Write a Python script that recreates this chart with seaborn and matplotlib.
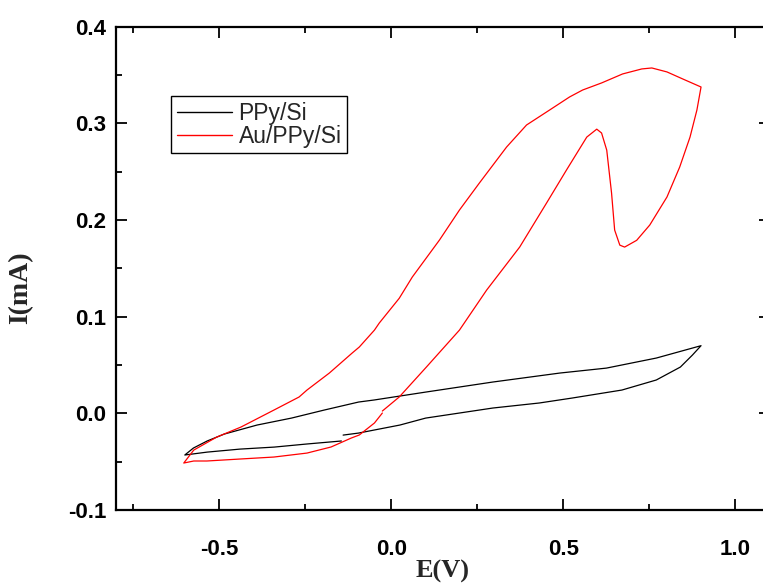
import matplotlib
matplotlib.use("Agg")
import matplotlib.pyplot as plt
from matplotlib.ticker import MultipleLocator, FormatStrFormatter
import pandas as pd
import seaborn as sns

# Cyclic voltammograms: potential E (V) and current I (mA), in scan order
ppy_e = [-0.145, -0.245, -0.34, -0.44, -0.535, -0.60, -0.575, -0.535, -0.485,
         -0.39, -0.29, -0.195, -0.095, -0.05, 0.10, 0.295, 0.49, 0.625, 0.77,
         0.90, 0.875, 0.84, 0.77, 0.67, 0.525, 0.43, 0.295, 0.10, 0.025,
         -0.095, -0.14]
ppy_i = [-0.0286, -0.0317, -0.0349, -0.0370, -0.0401, -0.0431, -0.0359,
         -0.0286, -0.0214, -0.0121, -0.0049, 0.0034, 0.0117, 0.0138, 0.0220,
         0.0324, 0.0417, 0.0468, 0.0572, 0.0700, 0.0603, 0.0479, 0.0345,
         0.0241, 0.0158, 0.0107, 0.0055, -0.0049, -0.0121, -0.0204, -0.0225]

au_e = [-0.026, 0.023, 0.102, 0.198, 0.277, 0.373, 0.451, 0.509, 0.568, 0.597,
        0.611, 0.626, 0.640, 0.649, 0.664, 0.678, 0.713, 0.751, 0.801, 0.838,
        0.868, 0.888, 0.90, 0.847, 0.801, 0.757, 0.728, 0.672, 0.611, 0.556,
        0.518, 0.460, 0.393, 0.335, 0.256, 0.198, 0.140, 0.061, 0.023,
        -0.035, -0.049, -0.093, -0.114, -0.180, -0.245, -0.268,
        -0.341, -0.437, -0.507, -0.574, -0.603, -0.574, -0.536, -0.437,
        -0.341, -0.245, -0.175, -0.116, -0.093, -0.049, -0.026]
au_i = [0.0024, 0.0169, 0.0479, 0.0861, 0.1275, 0.1720, 0.2175, 0.2517,
        0.2858, 0.2940, 0.2900, 0.2723, 0.2279, 0.1896, 0.1740, 0.1720,
        0.1790, 0.1948, 0.2238, 0.2548, 0.2858, 0.3138, 0.3376, 0.3459,
        0.3532, 0.3573, 0.3563, 0.3511, 0.3418, 0.3345, 0.3273, 0.3138,
        0.2983, 0.2755, 0.2383, 0.2103, 0.1793, 0.1410, 0.1190,
        0.0934, 0.0861, 0.0686, 0.0623, 0.0417, 0.0241, 0.0169,
        0.0034, -0.0142, -0.0245, -0.0380, -0.0514, -0.0493, -0.0493,
        -0.0472, -0.0452, -0.0411, -0.0348, -0.0255, -0.0224, -0.0100,
        0.0003]

samples = ["PPy/Si", "Au/PPy/Si"]
colors = {"PPy/Si": "black", "Au/PPy/Si": "red"}

df = pd.concat([
    pd.DataFrame({"E": ppy_e, "I": ppy_i, "sample": samples[0]}),
    pd.DataFrame({"E": au_e, "I": au_i, "sample": samples[1]}),
], ignore_index=True)

sns.set_theme(style="ticks")
plt.rcParams["font.family"] = ["Liberation Sans", "DejaVu Sans"]
plt.rcParams["axes.unicode_minus"] = False

fig = plt.figure(figsize=(7.63, 5.84), dpi=100)
ax = fig.add_axes([0.152, 0.1267, 0.857, 0.8276])

sns.lineplot(data=df, x="E", y="I", hue="sample", hue_order=samples,
             palette=colors, sort=False, estimator=None, linewidth=0.9,
             ax=ax)

ax.set_xlim(-0.8, 1.1)
ax.set_ylim(-0.1, 0.4)
ax.xaxis.set_major_locator(MultipleLocator(0.5))
ax.xaxis.set_minor_locator(MultipleLocator(0.25))
ax.yaxis.set_major_locator(MultipleLocator(0.1))
ax.yaxis.set_minor_locator(MultipleLocator(0.05))
ax.xaxis.set_major_formatter(FormatStrFormatter("%.1f"))
ax.yaxis.set_major_formatter(FormatStrFormatter("%.1f"))

ax.tick_params(which="both", direction="in", top=True, right=True,
               width=1.3, colors="black")
ax.tick_params(which="major", length=8, labelsize=16)
ax.tick_params(axis="x", which="major", pad=21)
ax.tick_params(axis="y", which="major", pad=7)
ax.tick_params(which="minor", length=4.5)
for lbl in ax.get_xticklabels() + ax.get_yticklabels():
    lbl.set_fontweight("bold")
for sp in ax.spines.values():
    sp.set_linewidth(1.6)
    sp.set_color("black")

ax.set_xlabel("E(V)", fontfamily="Liberation Serif", fontweight="bold",
              fontsize=19, labelpad=0)
ax.set_ylabel("I(mA)", fontfamily="Liberation Serif", fontweight="bold",
              fontsize=20)
ax.yaxis.set_label_coords(-0.127, 0.461)

handles, labels = ax.get_legend_handles_labels()
leg = ax.legend(handles, labels, loc="upper left",
                bbox_to_anchor=(0.084, 0.857), borderaxespad=0,
                frameon=True, fancybox=False, framealpha=1,
                edgecolor="black", fontsize=16.5, handlelength=2.4,
                handletextpad=0.3, borderpad=0.25, labelspacing=0.0)
leg.get_frame().set_linewidth(1.0)
for ln in leg.get_lines():
    ln.set_linewidth(1.0)

fig.savefig("out.png", dpi=100)
